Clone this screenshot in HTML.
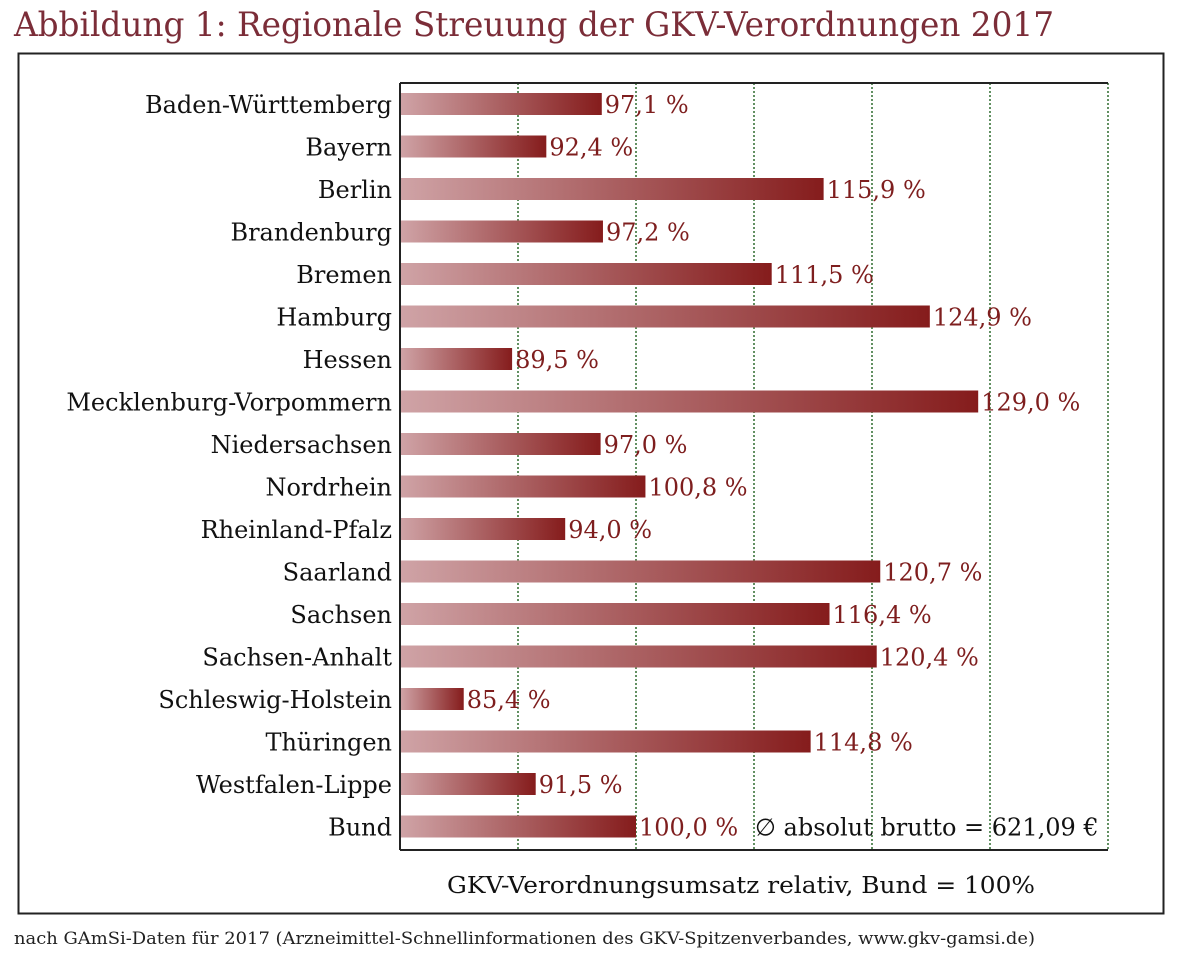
<!DOCTYPE html>
<html><head><meta charset="utf-8"><style>
body{margin:0;background:#fff;width:1181px;height:953px;overflow:hidden;font-family:"DejaVu Serif",serif}
</style></head><body>
<svg width="1181" height="953" xmlns="http://www.w3.org/2000/svg" font-family="DejaVu Serif, serif">
<defs><linearGradient id="g" x1="0" x2="1" y1="0" y2="0" gradientUnits="objectBoundingBox">
<stop offset="0" stop-color="#cfa3a6"/><stop offset="1" stop-color="#851c1c"/></linearGradient></defs>
<text x="14" y="36" font-size="34" fill="#7b2d38" textLength="1040" lengthAdjust="spacingAndGlyphs">Abbildung 1: Regionale Streuung der GKV-Verordnungen 2017</text>
<rect x="18.5" y="53.5" width="1145" height="860" fill="none" stroke="#222" stroke-width="2"/>
<g id="grid"></g>
<g id="bars"></g>
<text x="741" y="893" font-size="23" text-anchor="middle" fill="#111" textLength="588" lengthAdjust="spacingAndGlyphs">GKV-Verordnungsumsatz relativ, Bund = 100%</text>
<text x="14" y="944" font-size="17" fill="#222" textLength="1021" lengthAdjust="spacingAndGlyphs">nach GAmSi-Daten für 2017 (Arzneimittel-Schnellinformationen des GKV-Spitzenverbandes, www.gkv-gamsi.de)</text>
</svg>
<script>
const categories=["Baden-Württemberg","Bayern","Berlin","Brandenburg","Bremen","Hamburg","Hessen","Mecklenburg-Vorpommern","Niedersachsen","Nordrhein","Rheinland-Pfalz","Saarland","Sachsen","Sachsen-Anhalt","Schleswig-Holstein","Thüringen","Westfalen-Lippe","Bund"];
const values=[97.1,92.4,115.9,97.2,111.5,124.9,89.5,129.0,97.0,100.8,94.0,120.7,116.4,120.4,85.4,114.8,91.5,100.0];
const gridTicks=[80,90,100,110,120,130,140];
const NS="http://www.w3.org/2000/svg";
const x0=400,x1=1108,vmin=80,vmax=140;
const xs=v=>x0+(v-vmin)/(vmax-vmin)*(x1-x0);
const yTop=83,yBot=850,rowH=42.5,firstY=104;
const ys=i=>firstY+i*rowH;
const grid=document.getElementById('grid'),bars=document.getElementById('bars');
function mk(t,a,p){const e=document.createElementNS(NS,t);for(const k in a)e.setAttribute(k,a[k]);p.appendChild(e);return e;}
gridTicks.forEach(t=>{const l=mk('line',{x1:xs(t),x2:xs(t),y1:yTop,y2:yBot,stroke:t===vmin?'#222':'#2e6b2e','stroke-width':1.5,'stroke-dasharray':t===vmin?'':'2,2'},grid);

});
const ax=mk('path',{d:`M${x0},${yTop} H${x1} M${x0},${yTop} V${yBot} M${x0},${yBot} H${x1}`,stroke:'#222','stroke-width':2,fill:'none'},grid);


categories.forEach((c,i)=>{const y=ys(i);
const lb=mk('text',{x:392,y:y+9,'font-size':24,'text-anchor':'end',fill:'#111'},bars);lb.textContent=c;


const r=mk('rect',{x:x0+1,y:y-11,width:xs(values[i])-x0-1,height:22,fill:'url(#g)'},bars);


const v=mk('text',{x:xs(values[i])+3,y:y+9,'font-size':24,fill:'#7e1e1e'},bars);v.textContent=values[i].toFixed(1).replace('.',',')+' %';


});
const n=mk('text',{x:755,y:ys(17)+9,'font-size':24,fill:'#111'},bars);n.textContent='∅ absolut brutto = 621,09 €';


</script>
</body></html>
